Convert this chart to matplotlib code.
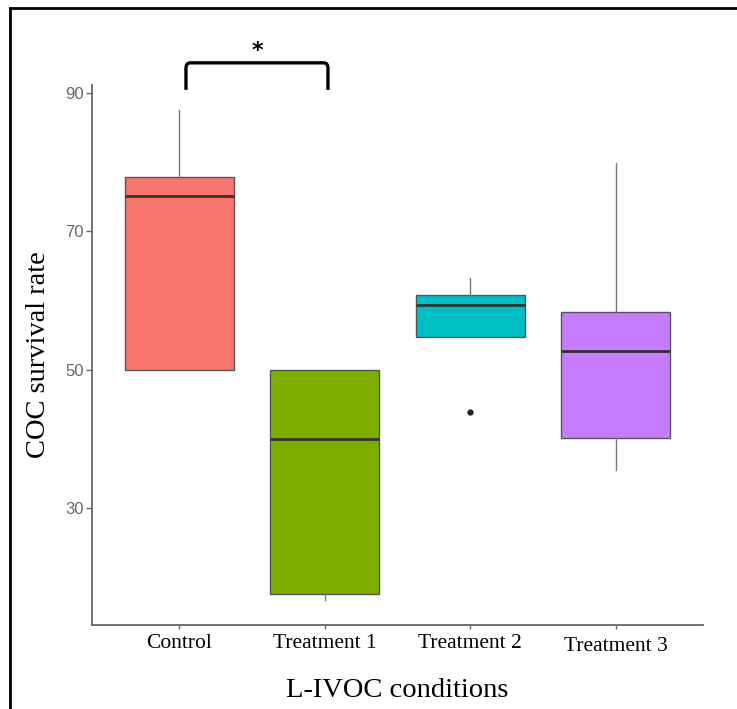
import matplotlib
matplotlib.use("Agg")
import matplotlib.pyplot as plt
from matplotlib.lines import Line2D
from matplotlib.path import Path
from matplotlib.patches import PathPatch
from matplotlib.transforms import ScaledTranslation

# box summaries
groups = ["Control", "Treatment 1", "Treatment 2", "Treatment 3"]
whisk_lo = [50.0, 16.8, 54.8, 35.5]
q1 = [50.0, 17.7, 54.8, 40.15]
median = [75.1, 40.0, 59.3, 52.7]
q3 = [77.85, 50.0, 60.85, 58.4]
whisk_hi = [87.5, 50.0, 63.3, 79.9]
outliers = [[], [], [43.9], []]
colors = ["#F8766D", "#7CAE00", "#00BFC4", "#C77CFF"]

fig = plt.figure(figsize=(7.37, 7.09), dpi=100)
ax = fig.add_axes([0.1248, 0.1185, 0.8291, 0.7616])

stats = []
for i, g in enumerate(groups):
    stats.append({"label": g, "whislo": whisk_lo[i], "q1": q1[i], "med": median[i],
                  "q3": q3[i], "whishi": whisk_hi[i], "fliers": outliers[i]})

bp = ax.bxp(stats, positions=range(1, 5), widths=0.75, patch_artist=True,
            showcaps=False,
            boxprops=dict(edgecolor="#555555", linewidth=1.0),
            medianprops=dict(color="#333333", linewidth=2.0),
            whiskerprops=dict(color="#777777", linewidth=1.0),
            flierprops=dict(marker="o", markersize=3.5, markerfacecolor="#222222",
                            markeredgecolor="#222222"))
for patch, c in zip(bp["boxes"], colors):
    patch.set_facecolor(c)

ax.set_xlim(0.4, 4.6)
ax.set_ylim(13.18, 91.1)
ax.set_yticks([30, 50, 70, 90])

for s in ["top", "right"]:
    ax.spines[s].set_visible(False)
for s in ["left", "bottom"]:
    ax.spines[s].set_color("#666666")
    ax.spines[s].set_linewidth(1.3)

ax.tick_params(axis="y", colors="#666666", labelsize=12, length=4, width=1, pad=2)
ax.tick_params(axis="x", colors="#666666", length=3, width=1, labelcolor="black")
for lab in ax.get_xticklabels():
    lab.set_family("Liberation Serif")
    lab.set_fontsize(15.5)
for lab in ax.get_yticklabels():
    lab.set_family("Liberation Sans")
# last label sits a little lower in the original
last = ax.get_xticklabels()[-1]
last.set_transform(last.get_transform() + ScaledTranslation(0, -3 / 100, fig.dpi_scale_trans))

ax.set_xlabel("L-IVOC conditions", family="Liberation Serif", fontsize=20.5, labelpad=16)
ax.set_ylabel("COC survival rate", family="Liberation Serif", fontsize=20.5, labelpad=10)

# significance bracket between Control and Treatment 1
x0, x1, y0, y1 = 1.046, 2.022, 90.4, 94.3
r = 0.8
verts = [(x0, y0), (x0, y1 - r), (x0, y1), (x0 + 0.03, y1), (x1 - 0.03, y1),
         (x1, y1), (x1, y1 - r), (x1, y0)]
codes = [Path.MOVETO, Path.LINETO, Path.CURVE3, Path.CURVE3, Path.LINETO,
         Path.CURVE3, Path.CURVE3, Path.LINETO]
ax.add_patch(PathPatch(Path(verts, codes), fill=False, lw=2.4, color="black",
                       clip_on=False, capstyle="butt"))
ax.text((x0 + x1) / 2, 96.0, "*", ha="center", va="center", fontsize=16,
        fontweight="bold", family="DejaVu Sans", clip_on=False)

# frame of the original image
fig.add_artist(Line2D([10 / 737, 1], [1 - 8 / 709, 1 - 8 / 709], color="black", lw=2))
fig.add_artist(Line2D([10 / 737, 10 / 737], [0, 1 - 8 / 709], color="black", lw=2))

fig.savefig("out.png", dpi=100)
